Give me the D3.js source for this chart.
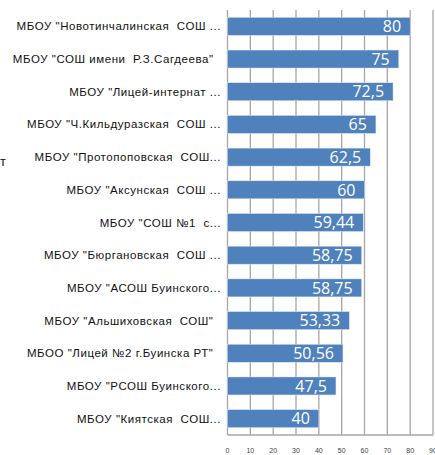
<!DOCTYPE html>
<html><head><meta charset="utf-8">
<script src="https://cdn.jsdelivr.net/npm/d3@7"></script>
<style>
body{margin:0;background:#fff;}
svg{display:block;}
text{white-space:pre;}
</style></head>
<body>
<svg id="c" width="435" height="455"></svg>
<script>
const categories = [
  'МБОУ "Новотинчалинская  СОШ ...',
  'МБОУ "СОШ имени  Р.З.Сагдеева"  ',
  'МБОУ "Лицей-интернат ...',
  'МБОУ "Ч.Кильдуразская  СОШ ...',
  'МБОУ "Протопоповская  СОШ...',
  'МБОУ "Аксунская  СОШ ...',
  'МБОУ "СОШ №1  с...',
  'МБОУ "Бюргановская  СОШ ...',
  'МБОУ "АСОШ Буинского...',
  'МБОУ "Альшиховская  СОШ"  ',
  'МБОО "Лицей №2 г.Буинска РТ"  ',
  'МБОУ "РСОШ Буинского...',
  'МБОУ "Киятская  СОШ...'
];
const values = [80, 75, 72.5, 65, 62.5, 60, 59.44, 58.75, 58.75, 53.33, 50.56, 47.5, 40];
const valueLabels = ["80","75","72,5","65","62,5","60","59,44","58,75","58,75","53,33","50,56","47,5","40"];
const ticks = [0,10,20,30,40,50,60,70,80,90];

const svg = d3.select("#c");
const x = d3.scaleLinear().domain([0,90]).range([227.5, 433]);
const y = d3.scaleBand().domain(categories).range([10, 435]).paddingInner(0.45).paddingOuter(0.225);

const grid = "#a6a6a6";
svg.append("g").selectAll("line").data(ticks).join("line")
  .attr("x1", d=>x(d)).attr("x2", d=>x(d))
  .attr("y1", 10).attr("y2", 435)
  .attr("stroke", grid).attr("stroke-width", 1.3);
svg.append("line").attr("x1", x(0)).attr("x2", x(90)).attr("y1", 435).attr("y2", 435)
  .attr("stroke", grid).attr("stroke-width", 1.3);

svg.append("g").selectAll("rect").data(values).join("rect")
  .attr("x", x(0)).attr("y", (d,i)=>y(categories[i]))
  .attr("width", d=>x(d)-x(0)).attr("height", y.bandwidth())
  .attr("fill", "#4f81bd").attr("stroke", "#dbe5f1").attr("stroke-width", 0.5);

svg.append("g").selectAll("text").data(values).join("text")
  .attr("x", d=>x(d)-9).attr("y", (d,i)=>y(categories[i])+y.bandwidth()/2)
  .attr("dy", "0.36em").attr("text-anchor","end")
  .attr("fill","#fff").attr("font-family","'Open Sans', sans-serif").attr("font-size", 16)
  .text((d,i)=>valueLabels[i]);

svg.append("g").selectAll("text").data(categories).join("text")
  .attr("x", 221).attr("y", d=>y(d)+y.bandwidth()/2)
  .attr("dy","0.35em").attr("text-anchor","end")
  .attr("fill","#111").attr("font-family","'Liberation Sans', sans-serif").attr("font-size", 11.5)
  .attr("letter-spacing", 0.55)
  .text(d=>d);

svg.append("g").selectAll("text").data(ticks).join("text")
  .attr("x", d=>x(d)).attr("y", 453).attr("text-anchor","middle")
  .attr("fill","#404040").attr("font-family","'Liberation Sans', sans-serif").attr("font-size", 7)
  .text(d=>d);

svg.append("text").attr("x", 6).attr("y", 166).attr("text-anchor","end")
  .attr("fill","#111").attr("font-family","'Liberation Sans', sans-serif").attr("font-size", 13)
  .text("т");
</script>
</body></html>
